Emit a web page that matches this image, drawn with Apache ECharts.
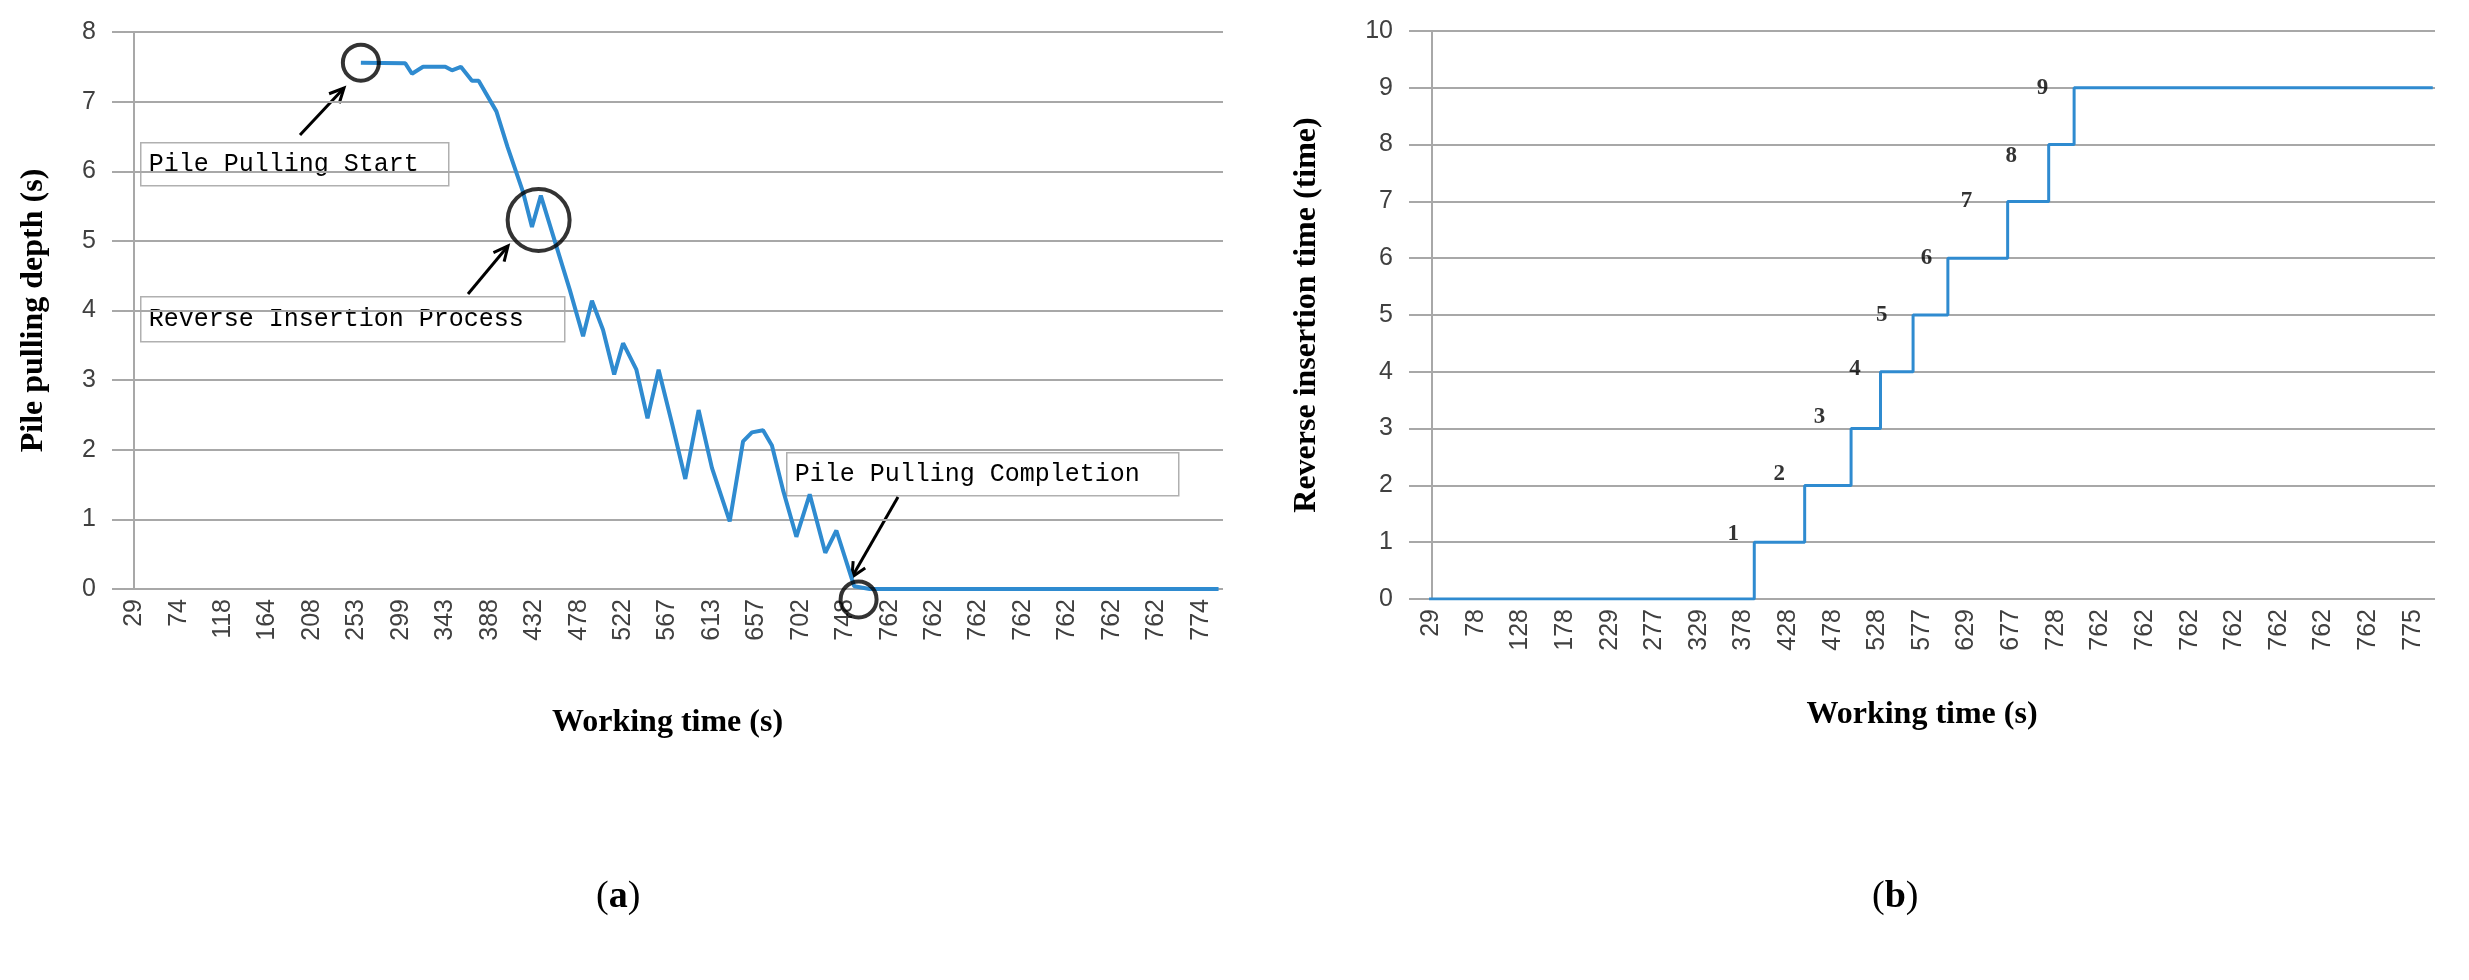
<!DOCTYPE html>
<html>
<head>
<meta charset="utf-8">
<script src="https://cdn.jsdelivr.net/npm/echarts@6/dist/echarts.min.js"></script>
<style>
  html, body { margin: 0; padding: 0; background: #fff; }
  #chart { width: 2469px; height: 980px; }
</style>
</head>
<body>
<div id="chart"></div>
<script>
// x tick labels (a) and (b)
let labelsA = ['29','74','118','164','208','253','299','343','388','432','478','522','567','613','657','702','748','762','762','762','762','762','762','762','774'];
let labelsB = ['29','78','128','178','229','277','329','378','428','478','528','577','629','677','728','762','762','762','762','762','762','762','775'];

// (a) pile pulling depth, [category position, depth]
let depthA = [
  [5.1,7.56],[6.1,7.55],[6.25,7.4],[6.5,7.5],[7.0,7.5],[7.15,7.45],[7.35,7.5],[7.6,7.3],[7.75,7.3],
  [8.15,6.86],[8.4,6.35],[8.75,5.7],[8.95,5.2],[9.15,5.65],[9.4,5.13],[9.8,4.3],[10.1,3.63],[10.3,4.14],
  [10.55,3.72],[10.8,3.08],[11.0,3.53],[11.3,3.15],[11.55,2.45],[11.8,3.15],[12.1,2.38],[12.4,1.58],
  [12.7,2.57],[13.0,1.74],[13.4,0.97],[13.7,2.12],[13.9,2.25],[14.15,2.28],[14.35,2.06],[14.6,1.42],
  [14.9,0.75],[15.2,1.36],[15.55,0.52],[15.8,0.84],[16.2,0.04],[16.55,0],[24.4,0]
];
// circled spots on (a): [position, depth, size]
let circlesA = [[5.1,7.56,36],[9.1,5.3,62],[16.3,-0.15,36]];

// (b) reverse insertion count, step corners
let riseB = [7.24,8.37,9.41,10.07,10.8,11.58,12.92,13.84,14.41];
let stepB = [[-0.05,0]];
riseB.forEach((x, i) => { stepB.push([x, i]); stepB.push([x, i + 1]); });
stepB.push([22.45, 9]);
// numbers next to each step
let stepLabels = [[6.77,1.15,'1'],[7.8,2.2,'2'],[8.7,3.2,'3'],[9.5,4.05,'4'],[10.1,5.0,'5'],[11.1,6.0,'6'],[12.0,7.0,'7'],[13.0,7.8,'8'],[13.7,9.0,'9']];

let tickFont = { color: '#404040', fontSize: 25, fontFamily: 'Liberation Sans Narrow, Liberation Sans, sans-serif' };
let titleFont = { color: '#000', fontSize: 32, fontWeight: 'bold', fontFamily: 'Liberation Serif, serif' };
let gridLine = { show: true, lineStyle: { color: '#a8a8a8', width: 2 } };
let blue = '#2f8bd0';

let catAxis = (labels, gridIndex, gap) => ({
  type: 'category', gridIndex: gridIndex, data: labels, boundaryGap: true,
  name: 'Working time (s)', nameLocation: 'middle', nameGap: gap, nameTextStyle: titleFont,
  axisLine: { show: false }, axisTick: { show: false },
  axisLabel: Object.assign({ rotate: 90, interval: 0, margin: 10 }, tickFont)
});
let valX = (n, gridIndex) => ({
  type: 'value', gridIndex: gridIndex, min: -0.5, max: n - 0.5, show: false
});
let valY = (max, name, gridIndex, gap) => ({
  type: 'value', gridIndex: gridIndex, min: 0, max: max, interval: 1,
  name: name, nameLocation: 'middle', nameGap: gap, nameTextStyle: titleFont,
  axisLine: { show: true, lineStyle: { color: '#a8a8a8', width: 2 } },
  axisTick: { show: true, length: 10, lineStyle: { color: '#a8a8a8', width: 2 } },
  axisLabel: Object.assign({ margin: 16 }, tickFont),
  splitLine: gridLine
});

let boxText = (x, y, w, h, text) => ({
  type: 'group', left: x, top: y, children: [
    { type: 'rect', shape: { x: 0, y: 0, width: w, height: h }, style: { fill: '#fff', stroke: '#b0b0b0', lineWidth: 1.5 } },
    { type: 'text', x: 8, y: h / 2, style: { text: text, fill: '#000', font: '25px "Liberation Mono", monospace', verticalAlign: 'middle' } }
  ]
});
let arrow = (x1, y1, x2, y2) => {
  let a = Math.atan2(y2 - y1, x2 - x1), L = 16;
  return { type: 'group', children: [
    { type: 'line', shape: { x1: x1, y1: y1, x2: x2, y2: y2 }, style: { stroke: '#000', lineWidth: 3 } },
    { type: 'polyline', shape: { points: [
      [x2 - L * Math.cos(a - 0.45), y2 - L * Math.sin(a - 0.45)], [x2, y2],
      [x2 - L * Math.cos(a + 0.45), y2 - L * Math.sin(a + 0.45)] ] }, style: { stroke: '#000', lineWidth: 3, fill: null } }
  ] };
};

let chart = echarts.init(document.getElementById('chart'));
chart.setOption({
  animation: false,
  grid: [
    { left: 112, width: 1111, top: 32, height: 557 },
    { left: 1409, width: 1026, top: 31, height: 568 }
  ],
  xAxis: [catAxis(labelsA, 0, 118), valX(labelsA.length, 0), catAxis(labelsB, 1, 100), valX(labelsB.length, 1)],
  yAxis: [valY(8, 'Pile pulling depth (s)', 0, 62), valY(10, 'Reverse insertion time (time)', 1, 86)],
  series: [
    { type: 'line', xAxisIndex: 1, yAxisIndex: 0, data: depthA, showSymbol: false, lineStyle: { color: blue, width: 4 } },
    { type: 'scatter', xAxisIndex: 1, yAxisIndex: 0, data: circlesA, symbol: 'circle', clip: false,
      symbolSize: (v) => v[2], itemStyle: { color: 'rgba(0,0,0,0)', borderColor: '#000', borderWidth: 4 }, z: 5 },
    { type: 'line', xAxisIndex: 3, yAxisIndex: 1, data: stepB, showSymbol: false, lineStyle: { color: blue, width: 3 } },
    { type: 'scatter', xAxisIndex: 3, yAxisIndex: 1, data: stepLabels, symbolSize: 0,
      label: { show: true, formatter: (p) => p.value[2], color: '#000', fontSize: 23, fontWeight: 'bold', fontFamily: 'Liberation Serif, serif' } }
  ],
  graphic: [
    boxText(140, 142, 308, 43, 'Pile Pulling Start'),
    boxText(140, 296, 424, 45, 'Reverse Insertion Process'),
    boxText(786, 452, 392, 43, 'Pile Pulling Completion'),
    arrow(300, 135, 344, 88),
    arrow(468, 294, 508, 246),
    arrow(898, 497, 852, 577),
    { type: 'text', left: 596, top: 878, style: { text: '({a|a})', rich: { a: { fontWeight: 'bold', fontSize: 38, fontFamily: 'Liberation Serif' } }, fill: '#000', font: '38px "Liberation Serif", serif' } },
    { type: 'text', left: 1872, top: 878, style: { text: '({a|b})', rich: { a: { fontWeight: 'bold', fontSize: 38, fontFamily: 'Liberation Serif' } }, fill: '#000', font: '38px "Liberation Serif", serif' } }
  ]
});
</script>
</body>
</html>
